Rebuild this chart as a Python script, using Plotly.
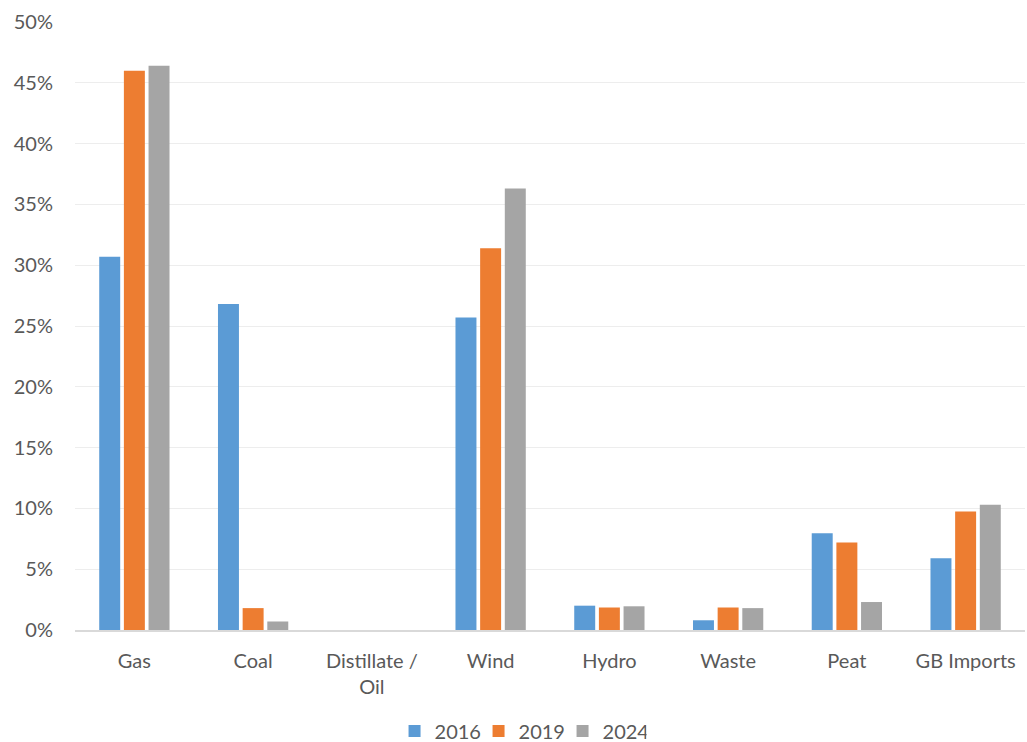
import plotly.graph_objects as go

categories = ["Gas", "Coal", "Distillate /<br>Oil", "Wind", "Hydro", "Waste", "Peat", "GB Imports"]
share_2016 = [30.7, 26.8, 0.0, 25.7, 2.0, 0.8, 7.95, 5.9]
share_2019 = [46.0, 1.8, 0.0, 31.4, 1.85, 1.85, 7.2, 9.75]
share_2024 = [46.4, 0.7, 0.0, 36.3, 1.95, 1.8, 2.3, 10.3]

series = [
    ("2016", share_2016, "#5b9bd5"),
    ("2019", share_2019, "#ed7d31"),
    ("2024", share_2024, "#a5a5a5"),
]

fig = go.Figure()
for name, vals, color in series:
    fig.add_trace(go.Bar(
        x=categories,
        y=[v / 100 for v in vals],
        name=name,
        marker=dict(color=color, line=dict(width=0)),
    ))

font_family = "Lato, Open Sans, sans-serif"
text_color = "#595959"
fig.update_layout(
    template="none",
    width=1027,
    height=742,
    margin=dict(l=75, r=2, t=22, b=112, autoexpand=False),
    paper_bgcolor="white",
    plot_bgcolor="white",
    barmode="group",
    bargap=0.377,
    bargroupgap=0.15,
    font=dict(family=font_family, size=20, color=text_color),
    showlegend=True,
    legend=dict(
        orientation="h",
        x=0.469,
        xanchor="center",
        y=-0.166,
        yanchor="middle",
        font=dict(size=20, color=text_color),
        itemwidth=30,
        entrywidth=39,
        traceorder="normal",
        bgcolor="rgba(0,0,0,0)",
    ),
    xaxis=dict(
        automargin=False,
        showgrid=False,
        showline=True,
        linecolor="#d9d9d9",
        linewidth=2,
        ticks="",
        ticklabelstandoff=12,
        tickfont=dict(size=20, color=text_color),
    ),
    yaxis=dict(
        automargin=False,
        range=[0, 0.5],
        dtick=0.05,
        tickformat=".0%",
        showgrid=True,
        gridcolor="#ededed",
        gridwidth=1,
        zeroline=False,
        showline=False,
        ticks="",
        ticklabelstandoff=21,
        tickfont=dict(size=20, color=text_color),
    ),
)

fig.write_html("out.html")
